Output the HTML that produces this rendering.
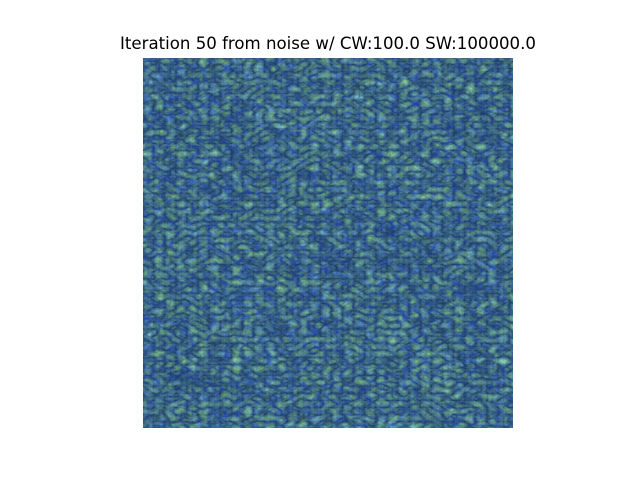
<!DOCTYPE html>
<html><head><meta charset="utf-8"><style>
html,body{margin:0;padding:0;background:#fff;width:640px;height:480px;overflow:hidden}
#title{position:absolute;left:8px;width:640px;top:34px;text-align:center;font-family:"DejaVu Sans","Liberation Sans",sans-serif;font-size:16.6px;color:#000}
svg{position:absolute;left:143px;top:58px}
</style></head><body>
<div id="title">Iteration 50 from noise w/ CW:100.0 SW:100000.0</div>
<svg width="370" height="370" viewBox="0 0 370 370">
<defs>
<filter id="tex" x="0" y="0" width="100%" height="100%" color-interpolation-filters="sRGB">
<feTurbulence type="turbulence" baseFrequency="0.09 0.14" numOctaves="3" seed="7" result="t"/>
<feColorMatrix in="t" type="matrix" values="
0.6 0.2 0 0 0.05
0.8 0.3 0 0 0.15
0.1 0.2 0.5 0 0.3
0 0 0 0 1"/>
</filter>
<filter id="tex2" x="0" y="0" width="100%" height="100%" color-interpolation-filters="sRGB">
<feTurbulence type="fractalNoise" baseFrequency="0.25 0.12" numOctaves="2" seed="3" result="t"/>
<feColorMatrix in="t" type="matrix" values="
0 0 0 0 0.12
0 0 0 0 0.22
0 0 0 0 0.6
1.8 0 0 0 -0.8"/>
</filter>
</defs>
<rect width="370" height="370" fill="#284a7a"/>
<rect width="370" height="370" filter="url(#tex)" opacity="0.75"/>
<rect width="370" height="370" filter="url(#tex2)" opacity="0.5"/>
</svg>
</body></html>
